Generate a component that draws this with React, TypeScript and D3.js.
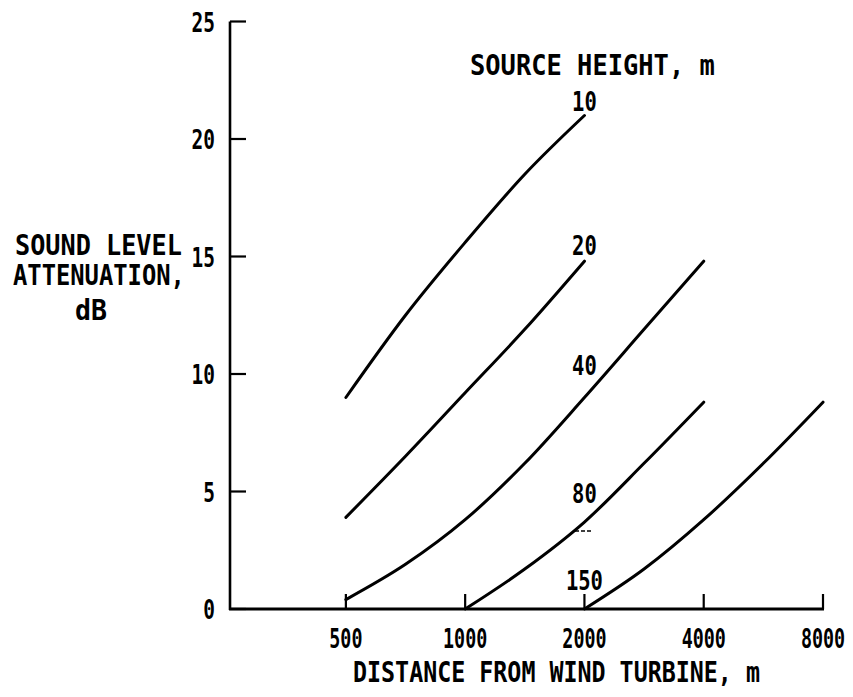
import React from "react";
import * as d3 from "d3";

const W = 853;
const H = 697;

// Axis ticks
const xTicks = [500, 1000, 2000, 4000, 8000];
const yTicks = [0, 5, 10, 15, 20, 25];

// Source heights (m) and their curves: distance (m) -> attenuation (dB)
const heights = ["10", "20", "40", "80", "150"];
const dist10 = [500, 707, 1000, 1414, 2000];
const att10 = [9.0, 12.5, 15.6, 18.5, 21.0];
const dist20 = [500, 707, 1000, 1414, 2000];
const att20 = [3.9, 6.5, 9.2, 11.9, 14.8];
const dist40 = [500, 707, 1000, 1414, 2000, 2828, 4000];
const att40 = [0.4, 1.9, 3.8, 6.2, 9.0, 11.9, 14.8];
const dist80 = [1000, 1414, 2000, 2828, 4000];
const att80 = [0.0, 1.7, 3.7, 6.2, 8.8];
const dist150 = [2000, 2828, 4000, 5657, 8000];
const att150 = [0.0, 1.7, 3.8, 6.2, 8.8];

const series = [
  { label: heights[0], d: dist10, a: att10 },
  { label: heights[1], d: dist20, a: att20 },
  { label: heights[2], d: dist40, a: att40 },
  { label: heights[3], d: dist80, a: att80 },
  { label: heights[4], d: dist150, a: att150 },
];

// label anchor positions in data space (distance, dB) for curve labels
const labelDist = [2000, 2000, 2000, 2000, 2000];
const labelAtt = [21.2, 15.05, 9.95, 4.5, 0.8];

const FONT = "'DejaVu Sans Mono', monospace";

export default function App() {
  const x = d3.scaleLog().domain([255, 8000]).range([230, 823]);
  const y = d3.scaleLinear().domain([0, 25]).range([609, 21.5]);

  const line = d3
    .line<[number, number]>()
    .x((p) => x(p[0]))
    .y((p) => y(p[1]))
    .curve(d3.curveMonotoneX);

  const tx = (px: number, py: number, sx: number) =>
    `translate(${px},${py}) scale(${sx},1)`;

  return (
    <svg
      width={W}
      height={H}
      style={{ position: "absolute", left: 0, top: 0, background: "#fff" }}
      fontFamily={FONT}
      fontWeight="bold"
    >
      <rect width={W} height={H} fill="#fff" />
      {/* y axis */}
      <line x1={230} x2={230} y1={y(25)} y2={y(0) + 1} stroke="#000" strokeWidth={2.6} />
      {yTicks.map((t) => (
        <g key={"yt" + t}>
          <line x1={230} x2={246} y1={y(t)} y2={y(t)} stroke="#000" strokeWidth={2.2} />
          <text
            transform={tx(215, y(t) + 10, 0.72)}
            textAnchor="end"
            fontSize={27}
            fill="#000"
          >
            {t}
          </text>
        </g>
      ))}
      {/* x axis */}
      <line x1={229} x2={x(8000) + 1} y1={y(0)} y2={y(0)} stroke="#000" strokeWidth={3} />
      {xTicks.map((t) => (
        <g key={"xt" + t}>
          <line x1={x(t)} x2={x(t)} y1={y(0)} y2={y(0) - 15} stroke="#000" strokeWidth={2.2} />
          <text
            transform={tx(x(t), 648, 0.68)}
            textAnchor="middle"
            fontSize={27}
            fill="#000"
          >
            {t}
          </text>
        </g>
      ))}
      {/* curves */}
      {series.map((s, i) => (
        <path
          key={"c" + i}
          d={line(s.d.map((v, k) => [v, s.a[k]] as [number, number])) || ""}
          fill="none"
          stroke="#000"
          strokeWidth={3}
          strokeLinecap="round"
        />
      ))}
      {/* curve labels */}
      {series.map((s, i) => (
        <text
          key={"l" + i}
          transform={tx(x(labelDist[i]), y(labelAtt[i]), 0.76)}
          textAnchor="middle"
          fontSize={27}
          fill="#000"
        >
          {s.label}
        </text>
      ))}
      <line x1={575} x2={593} y1={531} y2={531} stroke="#000" strokeWidth={1.5} strokeDasharray="4 2" />
      {/* titles */}
      <text transform={tx(470, 75, 0.908)} fontSize={28} fill="#000">
        SOURCE HEIGHT, m
      </text>
      <text transform={tx(353, 682, 0.833)} fontSize={28} fill="#000">
        DISTANCE FROM WIND TURBINE, m
      </text>
      <text transform={tx(15, 255, 0.9)} fontSize={28} fill="#000">
        SOUND LEVEL
      </text>
      <text transform={tx(13, 285, 0.85)} fontSize={28} fill="#000">
        ATTENUATION,
      </text>
      <text transform={tx(75, 320, 0.95)} fontSize={28} fill="#000">
        dB
      </text>
    </svg>
  );
}
